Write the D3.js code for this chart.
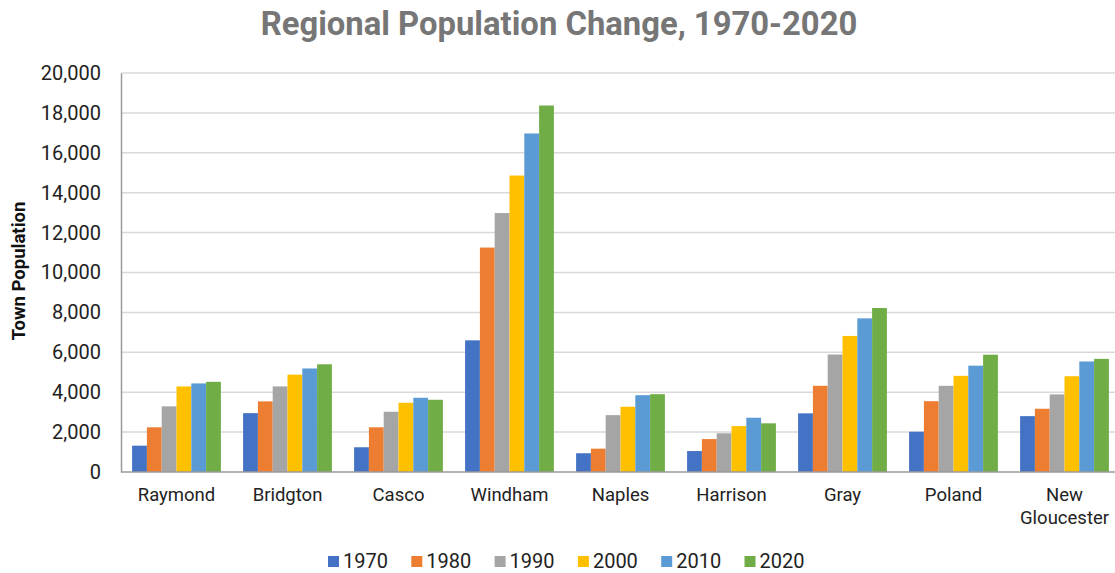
<!DOCTYPE html>
<html>
<head>
<meta charset="utf-8">
<script src="https://cdn.jsdelivr.net/npm/d3@7"></script>
<style>
  html, body { margin: 0; padding: 0; background: #fff; }
  svg { display: block; font-family: Roboto, "Noto Sans", sans-serif; }
</style>
</head>
<body>
<svg id="chart" width="1115" height="573"></svg>
<script>
const towns = ["Raymond", "Bridgton", "Casco", "Windham", "Naples", "Harrison", "Gray", "Poland", "New Gloucester"];
const years = ["1970", "1980", "1990", "2000", "2010", "2020"];
const pop1970 = [1320, 2950, 1240, 6600, 940, 1050, 2940, 2020, 2800];
const pop1980 = [2240, 3540, 2240, 11250, 1170, 1650, 4320, 3550, 3170];
const pop1990 = [3290, 4290, 3020, 12980, 2850, 1940, 5890, 4320, 3890];
const pop2000 = [4290, 4880, 3470, 14860, 3270, 2300, 6820, 4820, 4800];
const pop2010 = [4440, 5190, 3720, 16970, 3850, 2720, 7700, 5330, 5540];
const pop2020 = [4520, 5400, 3620, 18370, 3900, 2440, 8220, 5880, 5670];
const yTicks = [0, 2000, 4000, 6000, 8000, 10000, 12000, 14000, 16000, 18000, 20000];
const colors = ["#4472C4", "#ED7D31", "#A5A5A5", "#FFC000", "#5B9BD5", "#70AD47"];

const series = [pop1970, pop1980, pop1990, pop2000, pop2010, pop2020];

(function () {
const svg = d3.select("#chart");
const W = 1115;
const mLeft = 121, mRight = 1120, mTop = 73, mBottom = 472;

const x = d3.scaleBand().domain(towns).range([mLeft, mRight]).paddingInner(0.2).paddingOuter(0.1);
const xs = d3.scaleBand().domain(years).range([0, x.bandwidth()]).padding(0);
const y = d3.scaleLinear().domain([0, 20000]).range([mBottom, mTop]);
const color = d3.scaleOrdinal().domain(years).range(colors);

// title
svg.append("text")
  .attr("x", 559).attr("y", 35)
  .attr("text-anchor", "middle")
  .attr("font-size", 32.8).attr("font-weight", "bold")
  .attr("fill", "#767676")
  .text("Regional Population Change, 1970-2020");

// gridlines
svg.append("g")
  .selectAll("line")
  .data(yTicks.filter(d => d > 0))
  .join("line")
  .attr("x1", mLeft).attr("x2", W)
  .attr("y1", d => y(d)).attr("y2", d => y(d))
  .attr("stroke", "#d9d9d9").attr("stroke-width", 1.5);

// y axis
const yAxis = svg.append("g")
  .attr("transform", `translate(${mLeft},0)`)
  .call(d3.axisLeft(y).tickValues(yTicks).tickSize(0).tickPadding(20).tickFormat(d3.format(",")));
yAxis.select(".domain").attr("stroke", "#9a9a9a").attr("stroke-width", 1.5);
yAxis.selectAll("text").attr("font-size", 20).attr("fill", "#222").attr("font-family", "Roboto");

// bars
const groups = svg.append("g").selectAll("g")
  .data(towns)
  .join("g")
  .attr("transform", d => `translate(${x(d)},0)`);

groups.selectAll("rect")
  .data((t, i) => years.map((yr, j) => ({ year: yr, value: series[j][i] })))
  .join("rect")
  .attr("x", d => xs(d.year))
  .attr("width", xs.bandwidth())
  .attr("y", d => y(d.value))
  .attr("height", d => y(0) - y(d.value))
  .attr("fill", d => color(d.year));

// x axis
const xAxis = svg.append("g")
  .attr("transform", `translate(0,${mBottom})`)
  .call(d3.axisBottom(x).tickSize(0).tickPadding(16));
xAxis.select(".domain").remove();
svg.append("line")
  .attr("x1", mLeft).attr("x2", W).attr("y1", mBottom).attr("y2", mBottom)
  .attr("stroke", "#9a9a9a").attr("stroke-width", 1.5);
xAxis.selectAll("text")
  .attr("font-size", 18.5).attr("fill", "#222").attr("font-family", "Roboto")
  .each(function(d) {
    const words = d.split(" ");
    if (words.length > 1) {
      const t = d3.select(this);
      t.text(null);
      words.forEach((w, i) => {
        t.append("tspan").attr("x", 0).attr("dy", i === 0 ? "0.71em" : "1.25em").text(w);
      });
    }
  });

// y axis title
svg.append("text")
  .attr("transform", `translate(25,271) rotate(-90)`)
  .attr("text-anchor", "middle")
  .attr("font-size", 18.5).attr("font-weight", "bold")
  .attr("fill", "#111")
  .text("Town Population");

// legend
const legend = svg.append("g").selectAll("g")
  .data(years)
  .join("g")
  .attr("transform", (d, i) => `translate(${328 + i * 83.3},0)`);
legend.append("rect")
  .attr("x", 0).attr("y", 556).attr("width", 11).attr("height", 11)
  .attr("fill", d => color(d));
legend.append("text")
  .attr("x", 15).attr("y", 568)
  .attr("font-size", 20).attr("fill", "#222")
  .text(d => d);
})();
</script>
</body>
</html>
